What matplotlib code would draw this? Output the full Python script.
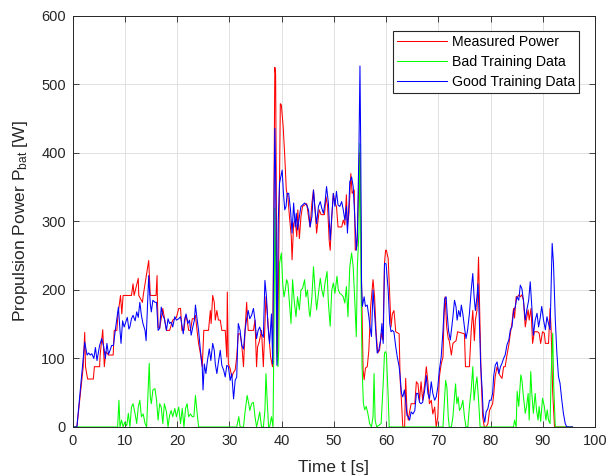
import matplotlib
matplotlib.use("Agg")
import matplotlib.pyplot as plt

plt.rcParams['font.family'] = ['Liberation Sans', 'DejaVu Sans']
plt.rcParams['mathtext.default'] = 'regular'

# ---- Measured Power ----
t_meas = [0, 0.8, 2.0, 2.3, 2.45, 2.85, 3.95, 4.15, 5.15, 5.25, 5.75, 6.05, 6.35, 6.85, 7.75, 7.95, 8.45, 8.65,
          9.15, 9.4, 9.65, 11.25, 11.55, 11.75, 12.55, 12.65, 13.35, 13.5, 14.55, 14.85, 15.95, 16.15, 16.2, 16.35,
          16.65, 17.25, 17.95, 18.55, 19.15, 19.85,
          20.3, 20.65, 20.9, 21.3, 21.6, 21.9, 22.2, 22.55, 22.9, 23.2, 23.5, 23.8, 24.1, 24.45, 24.8, 25.1, 26.0,
          26.35, 26.5, 26.8, 27.1, 27.3, 27.6, 27.9, 28.25, 28.55, 29.2, 29.5, 29.6, 29.8, 30.15, 30.45, 30.8, 31.1,
          31.4, 31.7, 32.05, 32.35, 32.7, 33.0, 33.3, 33.6, 34.6, 34.9, 35.2, 35.4, 35.7, 36.15, 36.5, 36.8, 37.0,
          37.3, 37.6, 37.9, 38.25,
          38.5, 38.7, 38.85, 39.05, 39.25, 39.5, 39.75, 39.95, 40.3, 40.6,
          40.9, 41.2, 41.5, 41.85, 42.0, 42.3, 42.6, 42.9, 43.1, 43.4, 43.7, 44.0, 44.4, 44.8, 45.15, 45.45, 45.8,
          46.1, 46.4, 46.7, 47.05, 47.2, 47.55, 48.2, 48.5, 48.8, 49.1, 49.3, 49.6, 49.9, 50.2, 50.5, 50.8, 51.5,
          51.8, 52.1, 52.4, 52.6, 52.9, 53.25, 53.5, 53.9, 54.1, 54.4, 54.65, 54.9, 55.05, 55.3, 55.6, 55.8, 56.05,
          56.4, 56.7, 57.05, 57.5, 57.8, 58.1, 58.4, 58.75, 59.1, 59.4, 59.7, 59.9,
          60.06, 60.4, 60.7, 60.95, 61.2, 61.5, 61.65, 61.85, 62.5, 62.7, 62.9, 63.2, 63.55, 63.75, 64.0, 64.25,
          64.5, 64.8, 65.5, 65.8, 66.1, 66.4, 66.7, 67.0, 67.4, 67.7, 68.0, 68.3, 68.65, 68.95, 69.3, 69.6, 69.9,
          70.2, 70.55, 70.9, 71.1, 71.3, 71.6, 71.9, 72.1, 72.5, 72.8, 73.4, 73.7, 75.0, 75.2, 75.95, 76.3, 76.6,
          76.9, 77.1, 77.4, 77.7, 77.9, 78.2, 78.5, 78.8, 79.15, 79.5, 79.8, 80.1, 80.4,
          80.6, 80.9, 81.25, 81.6, 81.9, 82.2, 82.5, 82.8, 83.15, 83.5, 83.8, 84.1, 84.4, 84.6, 84.9, 85.25, 85.5,
          85.7, 86.0, 86.3, 86.65, 86.85, 87.2, 87.4, 87.75, 88.05, 88.4, 89.0, 89.3, 89.6, 89.95, 90.3, 90.5,
          91.1, 91.4, 91.6, 91.9, 92.25, 95.7]
p_meas = [0, 0, 87, 138, 88, 70, 70, 88, 88, 105, 142, 88, 110, 105, 105, 141, 141, 163,
          192, 165, 192, 192, 209, 192, 217, 192, 182, 192, 243, 192, 192, 221, 192, 146,
          144, 173, 141, 141, 156, 160,
          173, 173, 141, 141, 163, 156, 141, 141, 158, 158, 163, 141, 122, 107, 88, 141, 141,
          170, 151, 192, 182, 156, 170, 156, 156, 141, 141, 102, 197, 92, 85, 73, 80, 83,
          102, 136, 136, 122, 88, 141, 182, 141, 141, 156, 88, 117, 124, 141, 88, 151, 190,
          161, 129, 102, 88,
          300, 525, 515, 250, 100, 280, 472, 470, 438, 395,
          346, 336, 307, 278, 244, 297, 302, 278, 317, 275, 307, 322, 324, 326, 307, 292, 327,
          346, 317, 283, 307, 317, 310, 310, 336, 322, 273, 258, 307, 341, 327, 322, 292, 292,
          302, 295, 339, 292, 312, 370, 341, 346, 258, 263, 317, 400, 380, 210, 83, 69, 86,
          88, 112, 176, 215, 190, 137, 108, 112, 137, 127, 239, 258,
          258, 246, 190, 146, 165, 170, 158, 139, 136, 68, 44, 0, 0, 71, 24, 10,
          22, 34, 34, 66, 63, 39, 66, 39, 63, 88, 66, 34, 39, 19, 29, 0, 15,
          73, 92, 102, 165, 190, 146, 129, 126, 105, 122, 126, 139, 136, 88, 88, 141, 170,
          126, 156, 170, 248, 175, 73, 15, 0, 0, 5, 24, 29, 34,
          47, 74, 88, 78, 74, 71, 88, 88, 105, 120, 137, 151, 173, 159, 190, 191, 193,
          190, 193, 185, 146, 156, 171, 156, 173, 122, 139, 139, 137, 122, 139, 137, 122,
          122, 173, 142, 50, 0, 0]

# ---- Bad Training Data ----
t_bad = [0, 8.6, 8.85, 9.05, 9.35, 9.65, 9.95, 10.35, 10.65, 10.95, 11.25, 11.55, 11.95, 12.25, 12.55, 12.85,
         13.15, 13.5, 13.85, 14.15, 14.45, 14.65, 14.85, 15.05, 15.35, 15.75, 16.05, 16.35, 16.65, 16.95, 17.25,
         17.55, 17.95, 18.25, 18.55, 18.85, 19.15, 19.55, 19.85,
         20.3, 20.65, 20.97, 21.3, 21.6, 21.9, 22.2, 22.55, 22.9, 23.2, 23.5, 23.8, 24.1, 31.4, 31.8, 32.05, 32.7,
         33.0, 33.4, 33.7, 33.9, 34.25, 34.6, 34.9, 35.2, 35.5, 35.8, 36.15, 36.5, 36.8, 37.0, 37.2, 37.5, 37.7,
         38.05, 38.35, 38.55, 38.7, 38.85, 39.05, 39.3, 39.45, 39.6, 39.95,
         40.2, 40.45, 40.7, 40.95, 41.2, 41.5, 41.8, 42.1, 42.4, 42.75, 43.05, 43.4, 43.7, 44.0, 44.4, 44.65,
         44.95, 45.3, 45.45, 45.8, 46.1, 46.4, 46.7, 47.05, 47.4, 47.7, 48.0, 48.3, 48.7, 48.95, 49.3, 49.6, 49.9,
         50.2, 50.6, 50.85, 51.15, 51.5, 51.8, 52.1, 52.4, 52.7, 53.05, 53.4, 53.7, 54.0, 54.3, 54.5, 54.8, 55.0,
         55.2, 55.4, 55.65, 55.9, 56.2, 56.5, 56.85, 57.2, 57.5, 57.7, 57.9, 58.2, 59.05, 59.45, 59.7, 59.9,
         60.06, 60.4, 60.6, 70.9, 71.0, 71.4, 71.65, 71.9, 72.1, 72.5, 72.8, 73.1, 73.3, 73.55, 73.8, 74.05, 74.4,
         74.7, 75.0, 75.3, 75.65, 75.95, 76.3, 76.6, 76.85, 77.1, 77.4, 77.75, 78.0, 84.4,
         84.6, 84.9, 85.1, 85.4, 85.8, 86.0, 86.3, 86.65, 86.9, 87.2, 87.4, 87.7, 87.9, 88.2, 88.55, 88.8, 89.1,
         89.3, 89.6, 89.95, 90.3, 90.6, 90.85, 91.1, 91.4, 91.6, 91.9, 92.1, 92.4, 95.7]
p_bad = [0, 0, 39, 0, 10, 0, 7, 2, 20, 0, 29, 34, 19, 5, 29, 39,
         15, 19, 5, 0, 54, 93, 44, 34, 54, 56, 39, 10, 34, 29, 5,
         34, 22, 0, 17, 24, 15, 27, 15,
         29, 5, 27, 0, 27, 34, 15, 19, 15, 15, 46, 22, 0, 0, 15, 0, 0,
         22, 46, 34, 24, 34, 36, 15, 0, 10, 22, 0, 0, 24, 78, 44, 0, 0,
         15, 0, 150, 320, 250, 110, 88, 113, 239, 254,
         210, 190, 200, 215, 210, 181, 151, 215, 185, 161, 190, 171, 200, 202, 215, 190,
         200, 166, 161, 190, 234, 200, 171, 195, 217, 200, 190, 210, 227, 181, 147, 200, 210,
         195, 220, 200, 195, 193, 190, 181, 205, 161, 234, 254, 234, 185, 132, 234, 283, 414,
         210, 88, 35, 25, 30, 20, 5, 0, 15, 78, 10, 0, 5, 64, 108, 110,
         107, 44, 0, 0, 15, 68, 58, 15, 0, 0, 15, 44, 63, 34, 44, 24, 29,
         39, 15, 0, 0, 29, 54, 88, 39, 58, 73, 34, 0, 0,
         10, 0, 52, 30, 76, 69, 44, 20, 30, 49, 10, 81, 49, 20, 49, 25, 10,
         30, 8, 42, 30, 10, 25, 10, 5, 74, 137, 59, 0, 0]

# ---- Good Training Data ----
t_good = [0, 0.8, 2.3, 2.75, 3.05, 3.35, 3.65, 4.05, 4.35, 4.65, 5.15, 5.55, 5.95, 6.25, 6.55, 6.85, 7.15, 7.45,
          7.8, 8.15, 8.45, 8.75, 9.05, 9.25, 9.55, 9.85, 10.15, 10.45, 10.75, 10.95, 11.25, 11.55, 11.95, 12.25,
          12.55, 12.85, 13.15, 13.45, 13.85, 14.05, 14.25, 14.55, 14.85, 15.05, 15.35, 15.75, 16.05, 16.35, 16.65,
          16.95, 17.25, 17.55, 17.95, 18.25, 18.55, 18.85, 19.15, 19.55, 19.85,
          20.3, 20.65, 20.97, 21.16, 21.4, 21.7, 22.05, 22.36, 22.68, 23.0, 23.3, 23.5, 23.8, 24.1, 24.45, 24.8,
          24.95, 25.2, 25.5, 25.8, 26.15, 26.45, 26.8, 27.1, 27.3, 27.6, 27.9, 28.25, 28.55, 28.9, 29.2, 29.5,
          29.8, 30.15, 30.45, 30.8, 31.1, 31.4, 31.7, 32.05, 32.35, 32.7, 33.0, 33.3, 33.6, 33.9, 34.25, 34.6,
          34.9, 35.2, 35.5, 35.8, 36.15, 36.5, 36.8, 37.1, 37.4, 37.7, 38.05, 38.3, 38.55, 38.7, 38.85, 39.1,
          39.35, 39.6,
          40.1, 40.35, 40.6, 40.85, 41.05, 41.35, 41.7, 42.0, 42.3, 42.6, 42.8, 43.05, 43.4, 43.7, 44.0, 44.4,
          44.8, 45.15, 45.45, 45.8, 46.1, 46.4, 46.7, 47.05, 47.4, 47.7, 48.0, 48.3, 48.6, 48.95, 49.3, 49.6, 49.9,
          50.2, 50.5, 50.8, 51.15, 51.5, 51.8, 52.1, 52.4, 52.6, 52.9, 53.05, 53.4, 53.7, 54.0, 54.3, 54.5, 54.8,
          55.0, 55.15, 55.3, 55.45, 55.8, 56.05, 56.4, 56.7, 56.9, 57.2, 57.5, 57.8, 58.05, 58.3, 58.6, 58.95,
          59.2, 59.45, 59.7, 60.0,
          60.4, 60.7, 60.95, 61.2, 61.5, 61.85, 62.15, 62.5, 62.7, 62.95, 63.2, 63.5, 63.75, 64.0, 64.25, 64.5,
          64.8, 65.15, 65.5, 65.8, 66.1, 66.4, 66.7, 67.0, 67.4, 67.7, 68.0, 68.3, 68.65, 68.95, 69.3, 69.6, 69.9,
          70.2, 70.55, 70.9, 71.2, 71.5, 71.7, 71.95, 72.3, 72.5, 72.8, 73.1, 73.4, 73.6, 73.9, 74.2, 74.4, 74.7,
          75.0, 75.3, 75.6, 75.95, 76.3, 76.6, 76.85, 77.1, 77.4, 77.6, 77.9, 78.1, 78.4, 78.6, 78.9, 79.15, 79.5,
          79.8, 80.1, 80.4,
          80.6, 80.9, 81.25, 81.6, 81.9, 82.2, 82.5, 82.8, 83.15, 83.5, 83.8, 84.1, 84.4, 84.75, 85.05, 85.4,
          85.7, 86.0, 86.3, 86.65, 86.95, 87.3, 87.6, 87.9, 88.2, 88.55, 88.9, 89.2, 89.5, 89.8, 90.15, 90.5,
          90.8, 91.1, 91.4, 91.6, 91.8, 92.05, 92.4, 92.7, 93.0, 93.3, 93.65, 93.95, 94.3, 94.6, 95.7]
p_good = [0, 0, 124, 105, 108, 105, 107, 100, 116, 97, 119, 129, 117, 100, 122, 106, 112, 119,
          119, 141, 158, 175, 141, 122, 155, 146, 153, 160, 143, 146, 158, 163, 155, 168,
          160, 182, 163, 151, 141, 126, 165, 221, 180, 168, 185, 182, 182, 141, 144,
          175, 163, 158, 141, 158, 151, 153, 146, 161, 156,
          158, 161, 146, 136, 156, 165, 151, 156, 134, 146, 156, 178, 158, 141, 112, 88,
          54, 92, 78, 97, 114, 97, 122, 112, 92, 78, 95, 112, 90, 83, 73, 90,
          88, 68, 78, 41, 68, 73, 151, 141, 119, 114, 141, 158, 170, 158, 163, 173,
          156, 129, 141, 146, 136, 131, 214, 190, 146, 122, 165, 92, 330, 436, 370, 90,
          300, 356,
          375, 341, 317, 322, 341, 341, 317, 283, 327, 292, 312, 288, 307, 322, 324, 327,
          324, 317, 292, 307, 346, 317, 297, 322, 329, 319, 312, 327, 351, 327, 273, 307, 341,
          322, 344, 324, 322, 329, 317, 302, 322, 283, 327, 358, 365, 351, 307, 258, 278, 404,
          527, 404, 210, 176, 190, 176, 178, 161, 147, 132, 200, 166, 137, 108, 112, 127,
          151, 122, 239, 238,
          200, 151, 139, 141, 139, 117, 102, 88, 73, 49, 44, 54, 39, 17, 15, 10,
          22, 19, 24, 49, 49, 36, 34, 36, 54, 75, 49, 41, 66, 49, 39, 44, 58,
          83, 102, 141, 187, 190, 165, 141, 127, 141, 161, 185, 175, 156, 170, 161, 178, 165,
          146, 129, 141, 165, 200, 224, 190, 170, 190, 209, 146, 92, 54, 19, 7, 22, 27,
          39, 39, 49,
          74, 90, 95, 78, 88, 93, 100, 105, 120, 127, 142, 146, 168, 176, 190, 185,
          207, 202, 185, 156, 171, 185, 212, 176, 134, 156, 166, 146, 159, 176, 156, 142,
          161, 151, 142, 205, 268, 239, 156, 108, 74, 64, 39, 20, 5, 0, 0]

labels = ['Measured Power', 'Bad Training Data', 'Good Training Data']
x_ticks = [0, 10, 20, 30, 40, 50, 60, 70, 80, 90, 100]
y_ticks = [0, 100, 200, 300, 400, 500, 600]

fig = plt.figure(figsize=(6.09, 4.76), dpi=100)
ax = fig.add_axes([0.1194, 0.103, 0.8576, 0.8634])

ax.plot(t_meas, p_meas, color='#ff0000', lw=0.75, label=labels[0])
ax.plot(t_bad, p_bad, color='#00ff00', lw=0.75, label=labels[1])
ax.plot(t_good, p_good, color='#0000ff', lw=0.75, label=labels[2])

ax.set_xlim(0, 100)
ax.set_ylim(0, 600)
ax.set_xticks(x_ticks)
ax.set_yticks(y_ticks)
ax.grid(True, color='#dcdcdc', lw=0.6)
ax.set_axisbelow(True)
ax.tick_params(direction='in', length=4, width=0.6, top=True, right=True,
               labelsize=10.5, colors='#262626', pad=5)
for s in ax.spines.values():
    s.set_color('#262626')
    s.set_linewidth(0.7)

ax.set_xlabel('Time t [s]', fontsize=12.5, color='#262626', labelpad=9)
ax.set_ylabel('Propulsion Power P$_{bat}$ [W]', fontsize=12.5, color='#262626', labelpad=8)

leg = ax.legend(loc='upper right', bbox_to_anchor=(0.9694, 0.9635), borderaxespad=0,
                fontsize=10.2, handlelength=3.5, handletextpad=0.35, labelspacing=0.4,
                borderpad=0.3, fancybox=False, framealpha=1)
leg.get_frame().set_edgecolor('#262626')
leg.get_frame().set_linewidth(0.8)

fig.savefig('out.png', dpi=100)
